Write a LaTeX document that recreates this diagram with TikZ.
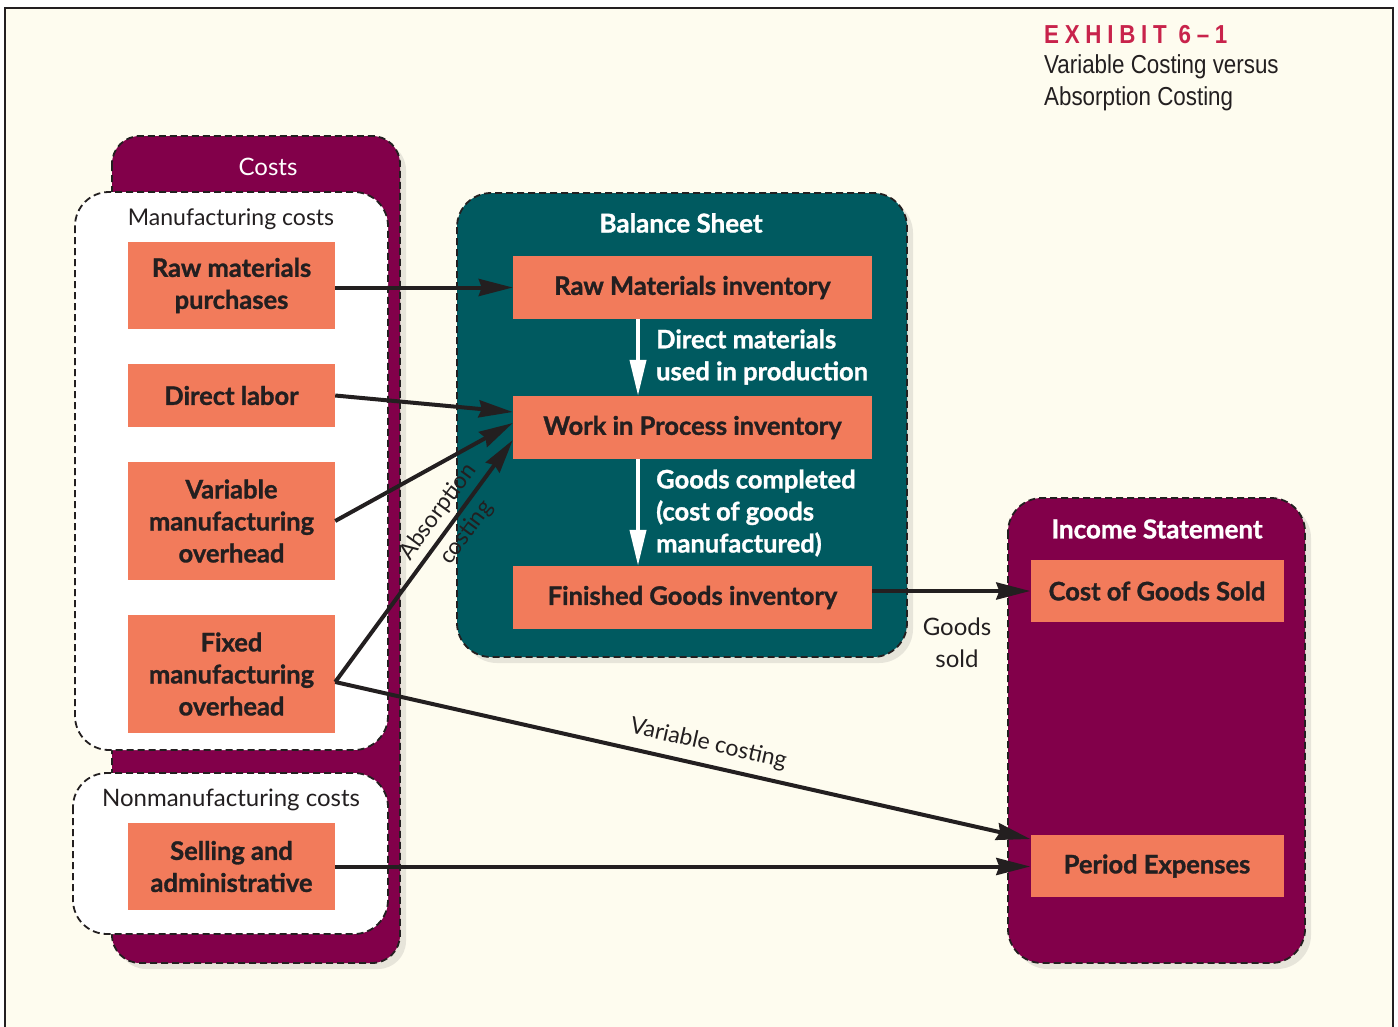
\documentclass[tikz,border=0pt]{standalone}
\usepackage{fontspec}
\setmainfont{Lato}[BoldFeatures={FakeBold=1.2}]
\newfontfamily\condfont[FakeStretch=0.86]{Liberation Sans}
\usetikzlibrary{arrows.meta,shadows,calc}
\definecolor{cream}{HTML}{FEFCEF}
\definecolor{plum}{HTML}{82004A}
\definecolor{bsteal}{HTML}{005A60}
\definecolor{salmon}{HTML}{F27B5B}
\definecolor{ink}{HTML}{231F20}
\definecolor{exred}{HTML}{C8234B}
\begin{document}
\begin{tikzpicture}[x=1pt,y=-1pt,
  container/.style={draw=ink, line width=1.8pt, dash pattern=on 7pt off 4pt},
  shadowed/.style={drop shadow={shadow xshift=6pt, shadow yshift=-6pt, opacity=0.18}},
  obox/.style={fill=salmon, text=ink, font=\bfseries\fontsize{25.5}{32}\selectfont, align=center, inner sep=0pt},
  lbox/.style={obox, minimum width=207pt},
  ibox/.style={obox, minimum width=359pt, minimum height=63pt},
  sbox/.style={obox, minimum width=253pt, minimum height=62pt},
  arr/.style={draw=ink, line width=4pt, -{Stealth[length=34pt,width=17pt,inset=3pt]}},
  warr/.style={draw=white, line width=4pt, -{Triangle[length=36pt,width=16pt]}},
  title/.style={font=\bfseries\fontsize{26}{30}\selectfont, text=white, inner sep=0pt},
  lab/.style={font=\fontsize{23}{28}\selectfont, text=ink, inner sep=0pt},
  wlab/.style={font=\bfseries\fontsize{25.5}{32}\selectfont, text=white, align=left, inner sep=0pt, anchor=west}
]
\useasboundingbox (0,0) rectangle (1398,1026);
\fill[white] (0,0) rectangle (1398,1026);
\draw[fill=cream, draw=ink, line width=2.5pt] (5,1040) -- (5,8) -- (1393,8) -- (1393,1040);

% title
\node[anchor=base west, inner sep=0pt, text=exred,
      font=\condfont\bfseries\fontsize{26}{30}\selectfont\addfontfeature{LetterSpace=22}] (exh) at (1044,43) {EXHIBIT 6–1};
\node[anchor=north west, inner sep=0pt, align=left, text=ink,
      font=\condfont\fontsize{26}{32}\selectfont] (sub) at (1044,54) {Variable Costing versus\\Absorption Costing};

% containers
\draw[container, fill=plum, shadowed, rounded corners=28pt] (112,136) rectangle (400,963);
\node[lab, text=white, font=\fontsize{24}{28}\selectfont] (costs) at (268,167) {Costs};
\draw[container, fill=white, rounded corners=34pt] (75,192) rectangle (388,750);
\node[lab] (mfg) at (231,219) {Manufacturing costs};
\draw[container, fill=white, rounded corners=34pt] (73,773) rectangle (388,934);
\node[lab, font=\fontsize{24}{28}\selectfont] (nonmfg) at (231,800) {Nonmanufacturing costs};

\draw[container, fill=bsteal, shadowed, rounded corners=34pt] (457,193) rectangle (907,657);
\node[title] (bs) at (681,223) {Balance Sheet};
\draw[container, fill=plum, shadowed, rounded corners=34pt] (1008,498) rectangle (1305,963);
\node[title] (is) at (1157,529) {Income Statement};

% left boxes
\node[lbox, minimum height=87pt] (rmp) at (231.5,285.5) {Raw materials\\purchases};
\node[lbox, minimum height=63pt] (dl) at (231.5,395.5) {Direct labor};
\node[lbox, minimum height=118pt] (vmo) at (231.5,521) {Variable\\manufacturing\\overhead};
\node[lbox, minimum height=118pt] (fmo) at (231.5,674) {Fixed\\manufacturing\\overhead};
\node[lbox, minimum height=87pt] (sa) at (231.5,866.5) {Selling and\\administrative};

% balance sheet boxes
\node[ibox] (rmi) at (692.5,287.5) {Raw Materials inventory};
\node[ibox] (wip) at (692.5,427.5) {Work in Process inventory};
\node[ibox] (fgi) at (692.5,597.5) {Finished Goods inventory};

% income statement boxes
\node[sbox] (cogs) at (1157,591) {Cost of Goods Sold};
\node[sbox] (pe) at (1157,866) {Period Expenses};

% white arrows
\draw[warr] ($(rmi.south)+(-54.5,0)$) -- ($(wip.north)+(-54.5,0)$);
\draw[warr] ($(wip.south)+(-54.5,0)$) -- ($(fgi.north)+(-54.5,0)$);
\node[wlab] (dmu) at (656,357) {Direct materials\\used in production};
\node[wlab] (gc) at (656,513) {Goods completed\\(cost of goods\\manufactured)};

% black arrows
\coordinate (fmoout) at ($(fmo.east)+(0,8)$);
\draw[arr] (rmp.east |- rmi.west) -- (rmi.west);
\draw[arr] (dl.east) -- ($(wip.west)+(0,-15.5)$);
\draw[arr] (vmo.east) -- ($(wip.west)+(0,-4.5)$);
\draw[arr] (fmoout) -- node[sloped, pos=0.66, align=center, font=\fontsize{23}{35}\selectfont, text=ink, inner sep=0pt] (abs) {Absorption\\costing} ($(wip.west)+(0,12.5)$);
\draw[arr] (fmoout) -- node[sloped, pos=0.53, above=9pt, font=\fontsize{23}{26}\selectfont, text=ink, inner sep=0pt] (varc) {Variable costing} ($(pe.west)+(0,-27)$);
\draw[arr] (sa.east) -- (pe.west |- sa.east);
\draw[arr] (fgi.east |- cogs.west) -- (cogs.west);
\node[lab, align=center, font=\fontsize{24}{32}\selectfont] (gs) at (957,643) {Goods\\sold};
\end{tikzpicture}
\end{document}
